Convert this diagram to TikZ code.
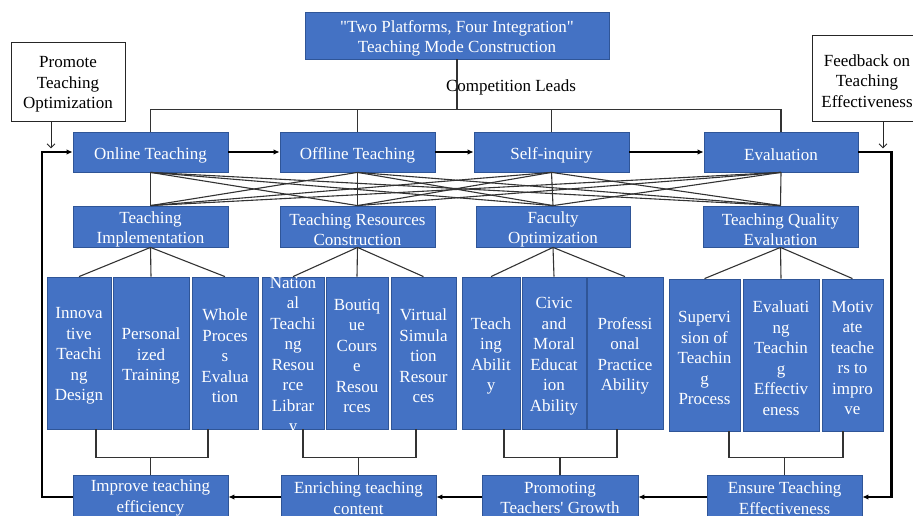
\documentclass[tikz,border=0pt]{standalone}
\usepackage{fontspec}
\setmainfont{Liberation Serif}[Ligatures=TeXOff]
\usetikzlibrary{arrows.meta,calc}

\definecolor{boxblue}{HTML}{4472C4}
\definecolor{boxedge}{HTML}{2F5597}
\definecolor{wire}{HTML}{333333}

\tikzset{
  bluebox/.style={draw=boxedge, line width=0.8pt, fill=boxblue, inner sep=0pt},
  notebox/.style={draw=black!85, line width=0.9pt, fill=white, inner sep=0pt},
  whitetext/.style={text=white, inner sep=0pt, align=center,
    font=\fontsize{17}{20.5}\selectfont},
  blacktext/.style={text=black, inner sep=0pt, align=center,
    font=\fontsize{17}{20.5}\selectfont},
  wireline/.style={draw=wire, line width=1.1pt},
  flow/.style={draw=black, line width=2.2pt, -{Latex[length=6pt,width=5.5pt]}},
  notearrow/.style={draw=black!85, line width=0.9pt, -{Straight Barb[length=4pt,width=8pt]}}
}

% box given by its corners: box style, text style, name, x1, y1, x2, y2, text
\newcommand\cornerbox[8]{%
  \node[#1, minimum width={(#6)-(#4)}, minimum height={(#7)-(#5)}]
    (#3) at ({((#4)+(#6))/2},{((#5)+(#7))/2}) {};%
  \node[#2] at ([yshift=-3pt]#3.center) {#8};}
\newcommand\blockbox[6]{\cornerbox{bluebox}{whitetext}{#1}{#2}{#3}{#4}{#5}{#6}}
\newcommand\outcomebox[6]{\cornerbox{bluebox}{whitetext,yshift=2pt}{#1}{#2}{#3}{#4}{#5}{#6}}
\newcommand\notecard[6]{\cornerbox{notebox}{blacktext}{#1}{#2}{#3}{#4}{#5}{#6}}

\begin{document}
\begin{tikzpicture}[x=1pt,y=-1pt]
\useasboundingbox (0,0) rectangle (913,516);

% title and side notes
\blockbox{title}{305}{12}{609}{59}{"Two Platforms, Four Integration"\\Teaching Mode Construction}
\notecard{promote}{11}{42}{125}{121}{Promote\\Teaching\\Optimization}
\notecard{feedback}{812}{35}{922}{121}{Feedback on\\Teaching\\Effectiveness}

% four stages
\blockbox{online}{73}{132}{228}{172}{Online Teaching}
\blockbox{offline}{280}{132}{435}{172}{Offline Teaching}
\blockbox{self}{474}{132}{629}{172}{Self-inquiry}
\blockbox{evaluation}{704}{132}{858}{172}{Evaluation}

% four integrations
\blockbox{impl}{73}{206}{228}{247}{Teaching\\Implementation}
\blockbox{resources}{280}{206}{435}{247}{Teaching Resources\\Construction}
\blockbox{faculty}{476}{206}{630}{247}{Faculty\\Optimization}
\blockbox{quality}{703}{206}{858}{247}{Teaching Quality\\Evaluation}

% detail columns
\blockbox{t11}{47}{277}{111}{429}{Innova\\tive\\Teachi\\ng\\Design}
\blockbox{t12}{113}{277}{189}{429}{Personal\\ized\\Training}
\blockbox{t13}{192}{277}{258}{429}{Whole\\Proces\\s\\Evalua\\tion}
\blockbox{t21}{262}{277}{324}{429}{Nation\\al\\Teachi\\ng\\Resou\\rce\\Librar\\y}
\blockbox{t22}{326}{277}{388}{429}{Boutiq\\ue\\Cours\\e\\Resou\\rces}
\blockbox{t23}{391}{277}{456}{429}{Virtual\\Simula\\tion\\Resour\\ces}
\blockbox{t31}{462}{277}{520}{429}{Teach\\ing\\Abilit\\y}
\blockbox{t32}{522}{277}{586}{429}{Civic\\and\\Moral\\Educat\\ion\\Ability}
\blockbox{t33}{587}{277}{663}{429}{Professi\\onal\\Practice\\Ability}
\blockbox{t41}{669}{279}{740}{431}{Supervi\\sion of\\Teachin\\g\\Process}
\blockbox{t42}{743}{279}{819}{431}{Evaluati\\ng\\Teachin\\g\\Effectiv\\eness}
\blockbox{t43}{822}{279}{883}{431}{Motiv\\ate\\teache\\rs to\\impro\\ve}

% outcomes
\outcomebox{improve}{73}{475}{228}{519}{Improve teaching\\efficiency}
\outcomebox{enriching}{281}{475}{436}{519}{Enriching teaching\\content}
\outcomebox{promoting}{482}{475}{638}{519}{Promoting\\Teachers' Growth}
\outcomebox{ensure}{707}{475}{862}{519}{Ensure Teaching\\Effectiveness}

% competition bus from the title to the stages
\path (online.north) ++(0,-22) coordinate (busl);
\coordinate (busm) at (title.south |- busl);
\draw[wireline] (title.south) -- (busm);
\draw[wireline] (online.north) -- (busl) -| (evaluation.north);
\draw[wireline] (offline.north) -- (offline.north |- busl);
\draw[wireline] (self.north) -- (self.north |- busl);
\node[blacktext] (lead) at (511,87) {Competition Leads};

% every stage feeds every integration
\foreach \a in {online,offline,self,evaluation}
  \foreach \b in {impl,resources,faculty,quality}
    \draw[wireline] (\a.south) -- (\b.north);

% integration trees
\foreach \p/\c in {impl/t1,resources/t2,faculty/t3,quality/t4}
  \foreach \k in {1,2,3}
    \draw[wireline] (\p.south) -- (\c\k.north);

% brackets joining each group into its outcome
\path (improve.north) ++(0,-17) coordinate (j1);
\path (enriching.north) ++(0,-17) coordinate (j2);
\path (promoting.north) ++(0,-17) coordinate (j3);
\path (ensure.north) ++(0,-17) coordinate (j4);
\draw[wireline] ([xshift=17pt]t11.south) |- (j1) -| ([xshift=-17pt]t13.south);
\draw[wireline] ([xshift=10pt]t21.south) |- (j2) -| ([xshift=-7.5pt]t23.south);
\draw[wireline] ([xshift=13pt]t31.south) |- (j3) -| ([xshift=-8pt]t33.south);
\draw[wireline] ([xshift=24.5pt]t41.south) |- (j4) -| ([xshift=-9.5pt]t43.south);
\foreach \j/\o in {j1/improve,j2/enriching,j3/promoting,j4/ensure}
  \draw[wireline] (\j) -- (\o.north);

% main cycle
\draw[flow] (online) -- (offline);
\draw[flow] (offline) -- (self);
\draw[flow] (self) -- (evaluation);
\draw[flow] (evaluation.east) -- ++(33,0) |- (ensure.east);
\draw[flow] (ensure) -- (promoting);
\draw[flow] (promoting) -- (enriching);
\draw[flow] (enriching) -- (improve);
\draw[flow] (improve.west) -- ++(-31,0) |- (online.west);

% note arrows
\draw[notearrow] ([xshift=-17pt]promote.south) -- ++(0,27);
\draw[notearrow] ([xshift=16pt]feedback.south) -- ++(0,27);
\end{tikzpicture}
\end{document}
